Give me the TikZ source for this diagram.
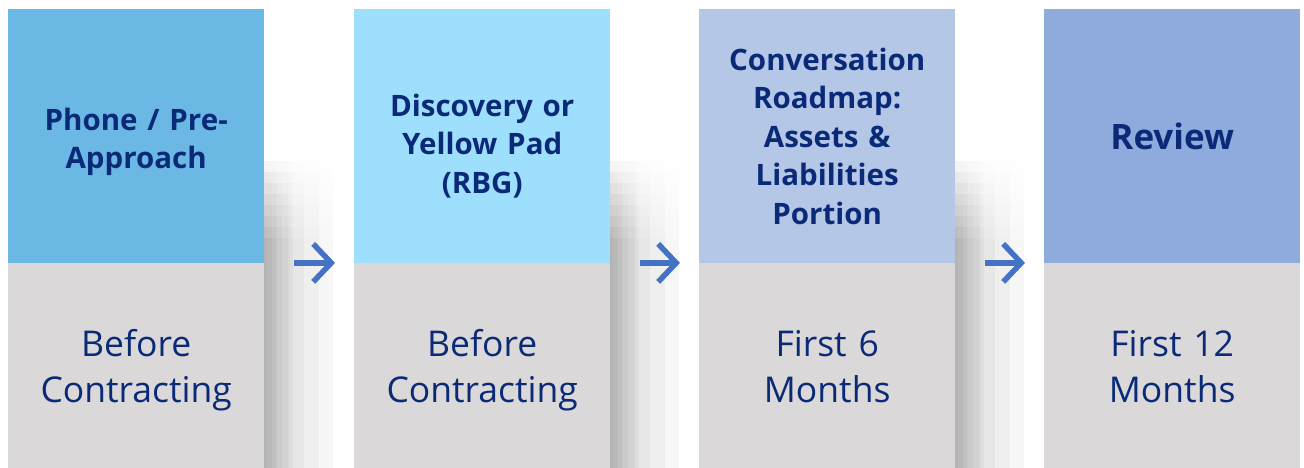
\documentclass[tikz,border=0pt]{standalone}
\usepackage{fontspec}
\setmainfont{Open Sans}
\usetikzlibrary{positioning,backgrounds,fadings,arrows.meta}

\definecolor{phaseA}{HTML}{6BB8E4}
\definecolor{phaseB}{HTML}{9DDFFD}
\definecolor{phaseC}{HTML}{B4C7E7}
\definecolor{phaseD}{HTML}{8FAADC}
\definecolor{timegray}{HTML}{DAD8D8}
\definecolor{navy}{HTML}{0A2A78}
\definecolor{arrowblue}{HTML}{4472C4}

\begin{document}
\begin{tikzpicture}[x=1pt,y=-1pt,
	phase/.style={anchor=north west, minimum width=256pt, minimum height=253.5pt, inner sep=0pt},
	title/.style={text width=250pt, align=center, text=navy, inner sep=0pt,
		font=\bfseries\fontsize{29.5}{38.5}\selectfont},
	timing/.style={below=-0.5pt of #1, minimum width=256pt, minimum height=205pt,
		inner sep=0pt, text width=250pt, align=center, fill=timegray, text=navy,
		font=\fontsize{35.5}{46}\selectfont,
		execute at begin node=\rule{0pt}{42pt}, execute at end node=\strut},
	flow/.style={draw=arrowblue, line width=5.5pt,
		-{Straight Barb[length=18pt,width=38pt,line width=5.5pt]}}]
	%\draw[help lines] (0,0) grid[step=50] (1304,468);
	\useasboundingbox (0,0) rectangle (1304,468);

	% top boxes: what happens
	\node[phase, fill=phaseA] (phase1) at (8,9)    {};
	\node[phase, fill=phaseB] (phase2) at (354,9)  {};
	\node[phase, fill=phaseC] (phase3) at (699,9)  {};
	\node[phase, fill=phaseD] (phase4) at (1044,9) {};
	\node[title, yshift=-6pt]  (title1) at (phase1) {Phone / Pre-\\Approach};
	\node[title, yshift=-10pt] (title2) at (phase2) {Discovery or\\Yellow Pad\\(RBG)};
	\node[title]               (title3) at (phase3) {Conversation\\Roadmap:\\Assets \&\\Liabilities\\Portion};
	\node[title, font=\bfseries\fontsize{35}{40}\selectfont] (title4) at (phase4) {Review};

	% bottom boxes: when it happens
	\node[timing=phase1] (time1) {Before\\Contracting};
	\node[timing=phase2] (time2) {Before\\Contracting};
	\node[timing=phase3] (time3) {First 6\\Months};
	\node[timing=phase4] (time4) {First 12\\Months};

	% soft shadows right of the columns, a tight one and a wide one
	\begin{scope}[on background layer]
		\foreach \n in {1,2,3}
			\foreach \i in {0,...,7} {
				\fill[black, opacity=0.032, path fading=east]
					([xshift=-10pt, yshift=-(152+\i*11)*1pt]phase\n.north east) rectangle ([xshift=30pt]time\n.south east);
				\fill[black, opacity=0.028, path fading=east]
					([xshift=-25pt, yshift=-(152+\i*11)*1pt]phase\n.north east) rectangle ([xshift=75pt]time\n.south east);
			}
	\end{scope}

	% arrows between the columns
	\draw[flow] ([xshift=30pt]phase1.south east) -- ([xshift=-19pt]phase2.south west);
	\draw[flow] ([xshift=30pt]phase2.south east) -- ([xshift=-19pt]phase3.south west);
	\draw[flow] ([xshift=30pt]phase3.south east) -- ([xshift=-19pt]phase4.south west);
\end{tikzpicture}
\end{document}
